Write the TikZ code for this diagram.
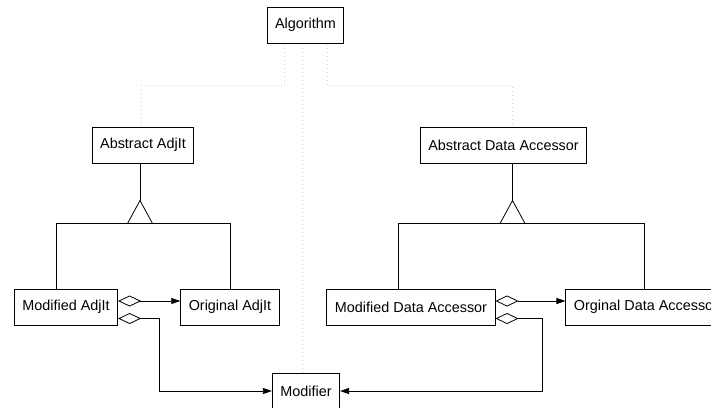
\documentclass[tikz,border=0pt]{standalone}
\usepackage{fontspec}
\setmainfont{Liberation Sans}
\usetikzlibrary{calc,arrows.meta}
\tikzset{cls/.style={rectangle,draw=black,line width=1pt,fill=white,inner xsep=8pt,minimum height=36pt,font=\fontsize{14.4}{17}\selectfont}}
\tikzset{use/.style={draw=black!18,line width=1pt,dash pattern=on 1pt off 3pt}}
\tikzset{agg/.style={{Diamond[open,length=23pt,width=11pt]}-{Triangle[length=9pt,width=6pt]},line width=0.8pt}}
\newcommand*{\TriSize}{12.5}

\begin{document}
\begin{tikzpicture}[x=1pt,y=-1pt]
\useasboundingbox (0,0) rectangle (711,407);
\node[cls] (alg) at (305.5,25) {Algorithm};
\node[cls] (absadj) at (143,145) {Abstract AdjIt};
\node[cls] (absacc) at (503.5,145) {Abstract Data Accessor};
\node[cls] (modadj) at (66,307) {Modified AdjIt};
\node[cls] (origadj) at (230,307) {Original AdjIt};
\node[cls] (modacc) at (411,307) {Modified Data Accessor};
\node[cls] (origacc) at (646,307) {Orginal Data Accessor};
\node[cls] (modifier) at (306,391) {Modifier};

% dotted uses from the algorithm
\draw[use] ([xshift=-21.5pt]alg.south) -- ++(0,42) -| ([xshift=-2pt]absadj.north);
\draw[use] ([xshift=-3.5pt]alg.south) -- ([xshift=-4pt]modifier.north);
\draw[use] ([xshift=21.5pt]alg.south) -- ++(0,42) -| ([xshift=8.5pt]absacc.north);

% inheritance, left
\draw[line width=0.8pt] ([xshift=-3pt]absadj.south) -- ++(0,37) coordinate (adjtip);
\draw[line width=0.8pt] (adjtip) -- ++(-\TriSize,23) -- ++(2*\TriSize,0) -- cycle;
\draw[line width=0.8pt] ([xshift=-10pt]modadj.north) |- ($(adjtip)+(0,23)$) -| (origadj.north);

% inheritance, right
\draw[line width=0.8pt] ([xshift=9pt]absacc.south) -- ++(0,37) coordinate (acctip);
\draw[line width=0.8pt] (acctip) -- ++(-\TriSize,23) -- ++(2*\TriSize,0) -- cycle;
\draw[line width=0.8pt] ([xshift=-13pt]modacc.north) |- ($(acctip)+(0,23)$) -| ([xshift=-2pt]origacc.north);

% aggregations
\draw[agg] ([yshift=6pt]modadj.east) -- ([yshift=6pt]origadj.west);
\draw[agg] ([yshift=-11.5pt]modadj.east) -- ++(41,0) |- (modifier.west);
\draw[agg] ([yshift=6pt]modacc.east) -- ([yshift=6pt]origacc.west);
\draw[agg] ([yshift=-11.5pt]modacc.east) -- ++(47,0) |- (modifier.east);
\end{tikzpicture}
\end{document}
